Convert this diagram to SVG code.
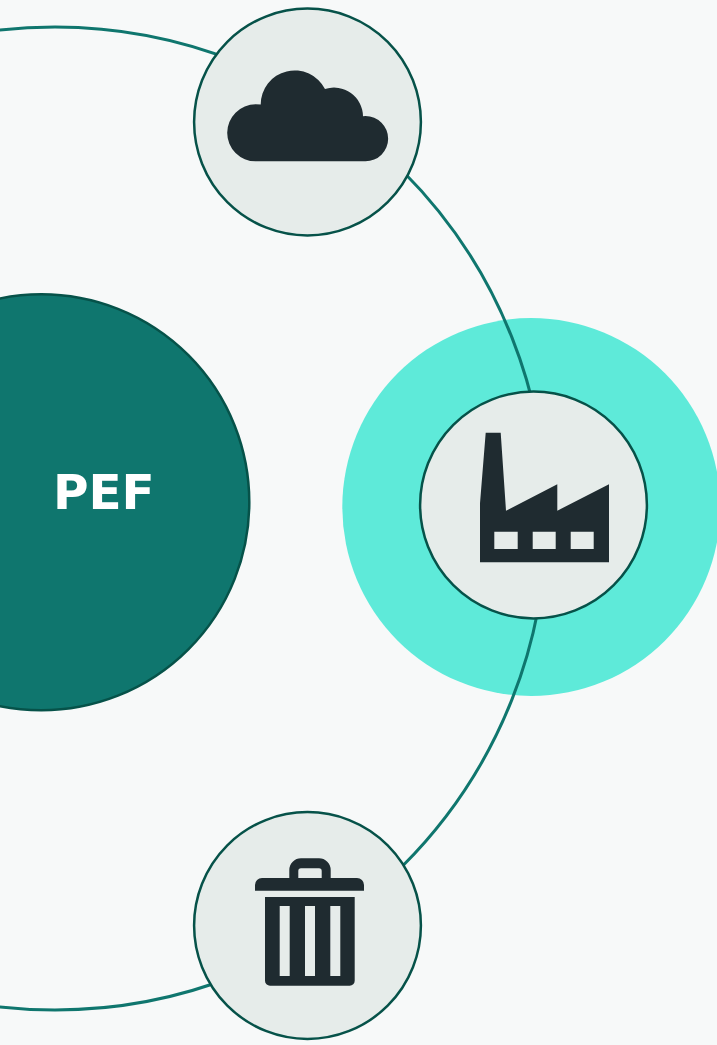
<svg xmlns="http://www.w3.org/2000/svg" width="717" height="1045" viewBox="0 0 717 1045">
<style>
.node{fill:#e6ecea;stroke:#065249;stroke-width:2.5}
.icon{fill:#1f2b30;fill-rule:evenodd}
.link{fill:none;stroke:#0f766e;stroke-width:3}
</style>
<rect width="717" height="1045" fill="#f7f9f9"/>
<circle id="halo" cx="531.300" cy="507" r="189" fill="#5eead9"/>
<g id="connectors"><circle class="link" cx="55" cy="518.500" r="491.500"/></g>
<g id="pef">
<circle cx="41.300" cy="502.300" r="208" fill="#0f766e" stroke="#065249" stroke-width="2.500"/>
<text x="103.800" y="509" text-anchor="middle" font-family="DejaVu Sans, sans-serif" font-weight="700" font-size="48.500" fill="#fff">PEF</text>
</g>
<g id="cloud">
<circle class="node" cx="307.500" cy="122" r="113.400"/>
<path class="icon" d="M255.700 161.300A28.500 28.500 0 0 1 255.700 104.300Q258 104.300 260.700 104.600A34 34 0 0 1 325 89A29 29 0 0 1 363 116.200Q364 116 365.500 116A22.600 22.600 0 0 1 365.500 161.300Z"/>
</g>
<g id="factory">
<circle class="node" cx="533.500" cy="505" r="113.400"/>
<path class="icon" d="M485.700 432.700H500.700L506 510.700L557.300 484.300V510.700L609 484.300V562.300H480V503.300ZM494.300 531.700V549H517.700V531.700ZM532.700 531.700V549H555.700V531.700ZM570.700 531.700V549H593.700V531.700Z"/>
</g>
<g id="trash">
<circle class="node" cx="307.500" cy="925.500" r="113.400"/>
<path class="icon" d="M262 878H289.300V870A11.700 11.700 0 0 1 301 858.300H319A11.700 11.700 0 0 1 330.700 870V878H357A7 7 0 0 1 364 885V890.700H255V885A7 7 0 0 1 262 878ZM298.300 878H321.700V871A2.700 2.700 0 0 0 319 868.300H301A2.700 2.700 0 0 0 298.300 871Z"/>
<path class="icon" d="M265 897H354.700V980.700A5 5 0 0 1 349.700 985.700H270A5 5 0 0 1 265 980.700ZM279.700 906V976H289.700V906ZM305 906V976H315V906ZM330.300 906V976H340.300V906Z"/>
</g>
</svg>
